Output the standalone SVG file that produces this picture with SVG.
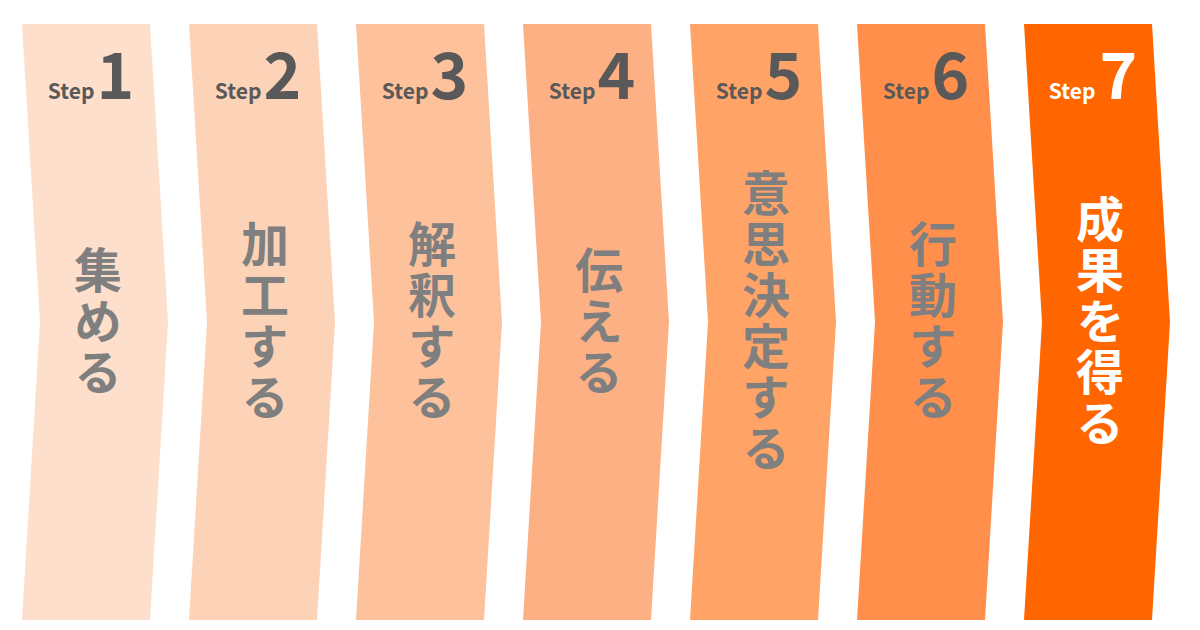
<svg xmlns="http://www.w3.org/2000/svg" width="1200" height="630" viewBox="0 0 1200 630">
<defs>
<style>
.step{font-family:"Noto Sans CJK JP","Noto Sans",sans-serif;font-weight:bold;fill:#595959}
.st{font-size:21px}
.num{font-size:64px}
.jp{font-family:"Noto Sans CJK JP",sans-serif;font-weight:bold;font-size:48px;fill:#7f7f7f;writing-mode:vertical-rl;letter-spacing:3px}
.w{fill:#ffffff}
</style>
<path id="chev" d="M0,0 H128 L146,298 L128,596 H0 L18,298 Z"/>
</defs>
<rect width="1200" height="630" fill="#ffffff"/>
<g id="step1" transform="translate(22,24)">
<use href="#chev" fill="#fedfcb"/>
<text class="step" x="69" y="75" text-anchor="middle"><tspan class="st">Step</tspan><tspan class="num" dx="2">1</tspan></text>
<text class="jp" x="76" y="298" text-anchor="middle">集める</text>
</g>
<g id="step2" transform="translate(189,24)">
<use href="#chev" fill="#fdd3b8"/>
<text class="step" x="69" y="75" text-anchor="middle"><tspan class="st">Step</tspan><tspan class="num" dx="2">2</tspan></text>
<text class="jp" x="76" y="298" text-anchor="middle">加工する</text>
</g>
<g id="step3" transform="translate(356,24)">
<use href="#chev" fill="#fdc19b"/>
<text class="step" x="69" y="75" text-anchor="middle"><tspan class="st">Step</tspan><tspan class="num" dx="2">3</tspan></text>
<text class="jp" x="76" y="298" text-anchor="middle">解釈する</text>
</g>
<g id="step4" transform="translate(523,24)">
<use href="#chev" fill="#fdb083"/>
<text class="step" x="69" y="75" text-anchor="middle"><tspan class="st">Step</tspan><tspan class="num" dx="2">4</tspan></text>
<text class="jp" x="76" y="298" text-anchor="middle">伝える</text>
</g>
<g id="step5" transform="translate(690,24)">
<use href="#chev" fill="#ffa366"/>
<text class="step" x="69" y="75" text-anchor="middle"><tspan class="st">Step</tspan><tspan class="num" dx="2">5</tspan></text>
<text class="jp" x="76" y="298" text-anchor="middle">意思決定する</text>
</g>
<g id="step6" transform="translate(857,24)">
<use href="#chev" fill="#ff8f4a"/>
<text class="step" x="69" y="75" text-anchor="middle"><tspan class="st">Step</tspan><tspan class="num" dx="2">6</tspan></text>
<text class="jp" x="76" y="298" text-anchor="middle">行動する</text>
</g>
<g id="step7" transform="translate(1024,24)">
<use href="#chev" fill="#ff6600"/>
<text class="step w" x="69" y="75" text-anchor="middle"><tspan class="st">Step</tspan><tspan class="num" dx="4">7</tspan></text>
<text class="jp w" x="76" y="298" text-anchor="middle">成果を得る</text>
</g>
<g id="connectors"/>
</svg>
